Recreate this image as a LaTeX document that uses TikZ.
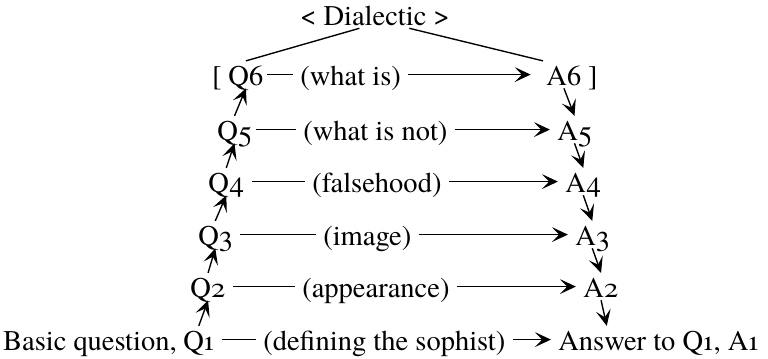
\documentclass[tikz,border=0pt]{standalone}
\usepackage{fontspec}
\IfFontExistsTF{texgyretermes-regular.otf}
  {\setmainfont{texgyretermes-regular.otf}[Numbers=OldStyle]}
  {\setmainfont{Liberation Serif}}
\usepackage{tikz}
\usetikzlibrary{arrows.meta,positioning,calc}

\tikzset{
    dlText/.style={
        inner sep=1pt,
        text height=7.6pt,
        text depth=0pt,
        font=\fontsize{10.4}{12}\selectfont
    },
    % connectors
    dlLine/.style={line width=0.5pt},
    dlArrow/.style={dlLine, -{Stealth[length=5.8pt, width=5.4pt, inset=2.6pt]}},
    dlGap/.style={shorten <=1.5pt, shorten >=1.5pt}
}

\begin{document}
\begin{tikzpicture}[x=0.3646pt, y=-0.3646pt, every node/.style={dlText}]
\useasboundingbox (0,0) rectangle (768,358);

% heading
\node[anchor=base] (dia) at (375,25) {\textless\ Dialectic \textgreater};

% questions
\node[anchor=base west] (q6) at (225,85) {Q6};
\node[base left=0pt of q6] (lbr) {[};
\node[anchor=base west] (q5) at (214,140) {Q5};
\node[anchor=base west] (q4) at (205,192) {Q4};
\node[anchor=base west] (q3) at (195,245) {Q3};
\node[anchor=base west] (q2) at (187,297) {Q2};
\node[anchor=base west] (q1) at (180,350) {Q1};
\node[base left=0pt of q1] (basic) {Basic question,};

% steps
\node[anchor=base west] (s6) at (297,85) {(what is)};
\node[anchor=base west] (s5) at (300,140) {(what is not)};
\node[anchor=base west] (s4) at (309,192) {(falsehood)};
\node[anchor=base west] (s3) at (320,245) {(image)};
\node[anchor=base west] (s2) at (299,297) {(appearance)};
\node[anchor=base west] (s1) at (260,350) {(defining the sophist)};

% answers
\node[anchor=base west] (a6) at (543,85) {A6};
\node[base right=0pt of a6] (rbr) {]};
\node[anchor=base west] (a5) at (554,140) {A5};
\node[anchor=base west] (a4) at (562,192) {A4};
\node[anchor=base west] (a3) at (572,245) {A3};
\node[anchor=base west] (a2) at (580,297) {A2};
\node[anchor=base west] (a1) at (555,350) {Answer to Q1, A1};

\draw[dlLine] ($(dia.south west)!0.4!(dia.south east)$) -- (q6.north);
\draw[dlLine] ($(dia.south west)!0.72!(dia.south east)$) -- (a6.north west);

\draw[dlLine, dlGap, shorten <=0.2pt] (q6) -- (s6);
\draw[dlArrow, dlGap, shorten >=4.5pt] (s6) -- (a6);
\draw[dlLine, dlGap, shorten <=0.2pt] (q5) -- (s5);
\draw[dlArrow, dlGap] (s5) -- (a5);
\draw[dlLine, dlGap] (q4) -- (s4);
\draw[dlArrow, dlGap] (s4) -- (a4);
\draw[dlLine, dlGap] (q3) -- (s3);
\draw[dlArrow, dlGap] (s3) -- (a3);
\draw[dlLine, dlGap] (q2) -- (s2);
\draw[dlArrow, dlGap] (s2) -- (a2);
\draw[dlLine, dlGap] (q1) -- (s1);
\draw[dlArrow, dlGap] (s1) -- (a1);

\draw[dlArrow] (q1.north) -- (q2.south);
\draw[dlArrow] (q2.north) -- (q3.south);
\draw[dlArrow] (q3.north) -- (q4.south);
\draw[dlArrow] (q4.north) -- (q5.south);
\draw[dlArrow] (q5.north) -- (q6.south);

\draw[dlArrow] (a6.south) -- (a5.north);
\draw[dlArrow] (a5.south) -- (a4.north);
\draw[dlArrow] (a4.south) -- (a3.north);
\draw[dlArrow] (a3.south) -- (a2.north);
\draw[dlArrow] (a2.south) -- ($(a1.north west)!0.25!(a1.north east)$);
\end{tikzpicture}
\end{document}
